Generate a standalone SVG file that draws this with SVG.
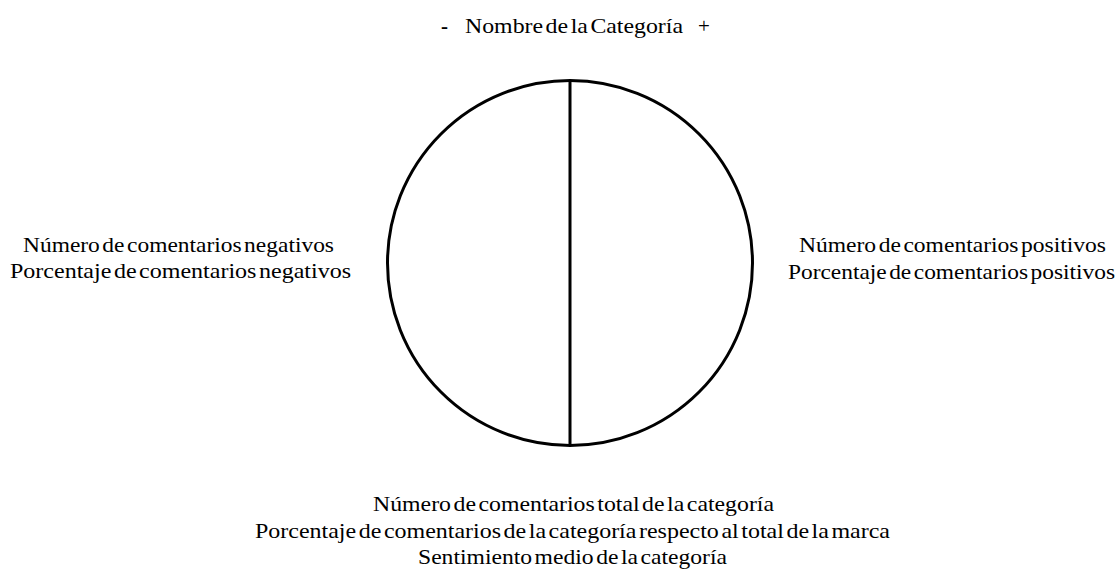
<svg xmlns="http://www.w3.org/2000/svg" width="1120" height="570" viewBox="0 0 1120 570">
<style>
.t{font-family:"Liberation Serif","Times New Roman",serif;font-size:21px;fill:#000;word-spacing:-3px}
.s{fill:none;stroke:#000;stroke-width:3}
</style>
<rect width="1120" height="570" fill="#fff"/>
<g id="title">
<text class="t" x="441" y="33" style="font-weight:bold">-</text>
<text class="t" x="465" y="33" textLength="218" lengthAdjust="spacingAndGlyphs">Nombre de la Categoría</text>
<text class="t" x="698" y="33">+</text>
</g>
<g id="circle">
<circle class="s" cx="570" cy="263" r="182.5"/>
</g>
<g id="connectors">
<line class="s" x1="570" y1="80" x2="570" y2="446"/>
</g>
<g id="negative">
<text class="t" x="23" y="251.5" textLength="311" lengthAdjust="spacingAndGlyphs">Número de comentarios negativos</text>
<text class="t" x="10" y="278" textLength="341" lengthAdjust="spacingAndGlyphs">Porcentaje de comentarios negativos</text>
</g>
<g id="positive">
<text class="t" x="799" y="252" textLength="307" lengthAdjust="spacingAndGlyphs">Número de comentarios positivos</text>
<text class="t" x="788" y="278.5" textLength="327" lengthAdjust="spacingAndGlyphs">Porcentaje de comentarios positivos</text>
</g>
<g id="summary">
<text class="t" x="373" y="511" textLength="401" lengthAdjust="spacingAndGlyphs">Número de comentarios total de la categoría</text>
<text class="t" x="255" y="537.5" textLength="635" lengthAdjust="spacingAndGlyphs">Porcentaje de comentarios de la categoría respecto al total de la marca</text>
<text class="t" x="418" y="564" textLength="309" lengthAdjust="spacingAndGlyphs">Sentimiento medio de la categoría</text>
</g>
</svg>
